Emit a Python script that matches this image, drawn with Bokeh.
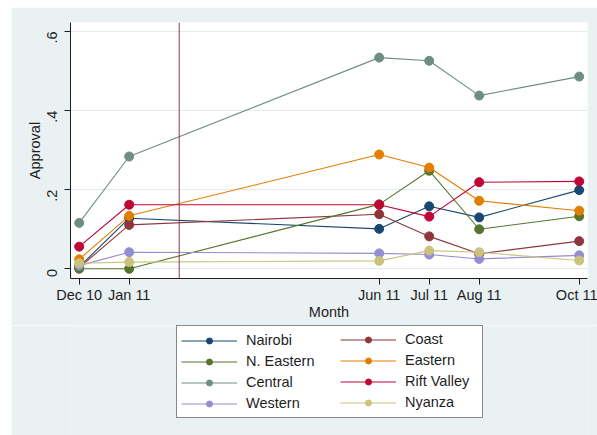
import math
from bokeh.plotting import figure
from bokeh.layouts import column
from bokeh.models import Span, Legend, LegendItem, FixedTicker, Range1d
from bokeh.embed import file_html
from bokeh.resources import INLINE

# Survey months (index = months since Dec 2010) and their tick labels
months = [0, 1, 6, 7, 8, 10]
month_labels = ["Dec 10", "Jan 11", "Jun 11", "Jul 11", "Aug 11", "Oct 11"]

# Approval share by province
nairobi = [0.005, 0.128, 0.101, 0.158, 0.130, 0.199]
coast = [0.003, 0.111, 0.138, 0.082, 0.038, 0.070]
n_eastern = [0.0, 0.0, 0.163, 0.248, 0.100, 0.133]
eastern = [0.024, 0.134, 0.289, 0.256, 0.172, 0.147]
central = [0.116, 0.284, 0.534, 0.526, 0.438, 0.486]
rift_valley = [0.056, 0.162, 0.162, 0.132, 0.219, 0.221]
western = [0.008, 0.042, 0.039, 0.036, 0.025, 0.034]
nyanza = [0.014, 0.017, 0.020, 0.046, 0.042, 0.021]

y_ticks = [0, 0.2, 0.4, 0.6]
y_tick_labels = ["0", ".2", ".4", ".6"]
event_month = 2  # Feb 11 marker line

series = [
    ("Nairobi", nairobi, "#1a476f"),
    ("Coast", coast, "#90353b"),
    ("N. Eastern", n_eastern, "#55752f"),
    ("Eastern", eastern, "#e37e00"),
    ("Central", central, "#6e8e84"),
    ("Rift Valley", rift_valley, "#c10534"),
    ("Western", western, "#938dd2"),
    ("Nyanza", nyanza, "#cac27e"),
]

FONT = "Liberation Sans"
TXT = "#1e1e1e"
BG = "#e9f1f3"

# ---- main chart -------------------------------------------------------------
p = figure(
    width=586, height=318, margin=(7, 0, 0, 11),
    output_backend="svg", toolbar_location=None,
    x_range=Range1d(-0.174, 10.166), y_range=Range1d(-0.0245, 0.6228),
    min_border_left=59, min_border_right=10, min_border_top=15, min_border_bottom=47,
    background_fill_color="white", border_fill_color=BG,
)
p.outline_line_color = None

p.xaxis.ticker = FixedTicker(ticks=months)
p.xaxis.major_label_overrides = {m: lab for m, lab in zip(months, month_labels)}
p.yaxis.ticker = FixedTicker(ticks=y_ticks)
p.yaxis.major_label_overrides = {t: lab for t, lab in zip(y_ticks, y_tick_labels)}
p.yaxis.major_label_orientation = math.pi / 2
p.xaxis.axis_label = "Month"
p.yaxis.axis_label = "Approval"
for ax in (p.xaxis, p.yaxis):
    ax.axis_line_color = TXT
    ax.major_tick_line_color = TXT
    ax.major_tick_out = 6
    ax.major_tick_in = 0
    ax.minor_tick_line_color = None
    ax.major_label_text_font = FONT
    ax.major_label_text_font_size = "14.5px"
    ax.major_label_text_color = TXT
    ax.axis_label_text_font = FONT
    ax.axis_label_text_font_size = "14.5px"
    ax.axis_label_text_font_style = "normal"
    ax.axis_label_text_color = TXT
p.xaxis.major_label_standoff = 2
p.xaxis.axis_label_standoff = -2
p.yaxis.major_label_standoff = 12
p.yaxis.axis_label_standoff = -3

p.xgrid.grid_line_color = None
p.ygrid.grid_line_color = "#e2ecee"
p.ygrid.grid_line_width = 1

p.add_layout(Span(location=event_month, dimension="height",
                  line_color="#8e3a46", line_width=1))

for name, vals, col in series:
    p.line(months, vals, line_color=col, line_width=1.1)
    p.scatter(months, vals, size=9, fill_color=col, line_color=col)

# ---- key panel below the chart (frame aligned with the chart's frame) ---------
k = figure(
    width=586, height=110, margin=(0, 0, 0, 11),
    output_backend="svg", toolbar_location=None,
    x_range=Range1d(0, 1), y_range=Range1d(0, 1),
    x_axis_location=None, y_axis_location=None,
    min_border_left=0, min_border_right=0, min_border_top=0, min_border_bottom=0,
    background_fill_color=BG, border_fill_color=BG,
)
k.outline_line_color = None
k.grid.grid_line_color = None

# key-only renderers: one NaN point each, so nothing shows in the panel itself
nan = float("nan")
key_items = {}
for name, vals, col in series:
    kl = k.line(x=[nan], y=[nan], line_color=col, line_width=1.1)
    ks = k.scatter(x=[nan], y=[nan], fill_color=col, line_color=col)
    key_items[name] = LegendItem(label=name, renderers=[kl, ks])

common = dict(
    orientation="vertical", padding=4, spacing=1,
    glyph_width=56, glyph_height=15, label_height=20, label_standoff=9,
    label_text_font=FONT, label_text_font_size="14.5px", label_text_color=TXT,
)
left_key = Legend(
    items=[key_items[n] for n in ["Nairobi", "N. Eastern", "Central", "Western"]],
    location=(106, 17), label_width=232,
    border_line_color="#111111", border_line_width=1,
    background_fill_color="white", background_fill_alpha=1.0,
    **common,
)
right_key = Legend(
    items=[key_items[n] for n in ["Coast", "Eastern", "Rift Valley", "Nyanza"]],
    location=(270, 23), label_width=60,
    border_line_color=None, background_fill_alpha=0.0,
    **common,
)
k.add_layout(left_key)
k.add_layout(right_key)

page = column(p, k, spacing=0)
open("out.html", "w").write(file_html(page, INLINE))
